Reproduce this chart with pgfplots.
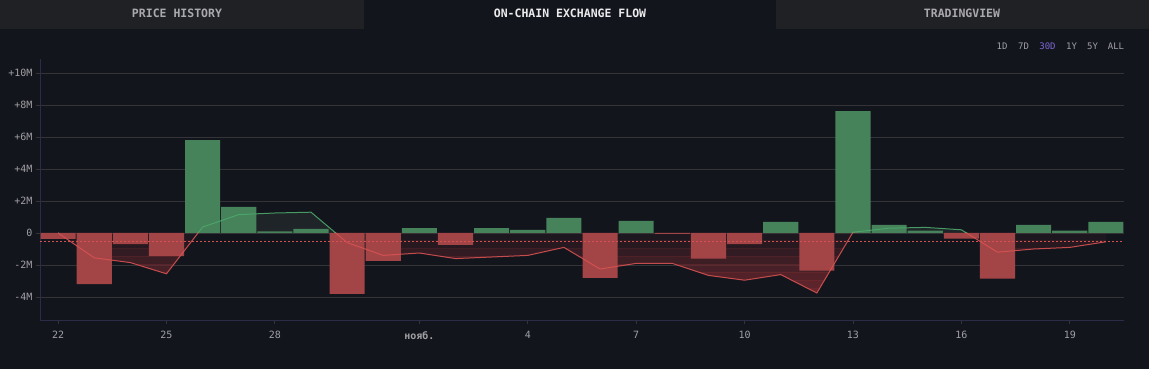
\documentclass[border=0pt]{standalone}
\usepackage{pgfplots}
\pgfplotsset{compat=1.18}
\usepackage{fontspec}
\setmainfont{DejaVu Sans Mono}
\definecolor{bg}{RGB}{19,21,29}
\definecolor{tabc}{RGB}{32,33,37}
\definecolor{grn}{RGB}{70,130,90}
\definecolor{redb}{RGB}{163,69,71}
\definecolor{redline}{RGB}{214,82,82}
\definecolor{grnline}{RGB}{76,168,106}
\definecolor{gridc}{RGB}{52,52,56}
\definecolor{axc}{RGB}{44,44,72}
\definecolor{tickc}{RGB}{160,160,165}
\definecolor{purp}{RGB}{124,104,214}
\definecolor{redfill}{RGB}{108,40,46}
\definecolor{grnfill}{RGB}{30,36,40}

\pgfplotstableread{
x y
4 5.81
5 1.63
6 0.1
7 0.25
10 0.3
12 0.3
13 0.2
14 0.95
16 0.75
20 0.7
22 7.62
23 0.5
24 0.15
27 0.5
28 0.15
29 0.7
}\pos
\pgfplotstableread{
x y
0 -0.37
1 -3.2
2 -0.7
3 -1.45
8 -3.8
9 -1.75
11 -0.75
15 -2.8
17 -0.05
18 -1.6
19 -0.7
21 -2.35
25 -0.35
26 -2.85
}\neg
\pgfplotstableread{
x y
0 0
1 -1.55
2 -1.85
3 -2.55
4 0.37
5 1.15
6 1.25
7 1.3
8 -0.6
9 -1.4
10 -1.25
11 -1.6
12 -1.5
13 -1.4
14 -0.9
15 -2.25
16 -1.9
17 -1.9
18 -2.65
19 -2.95
20 -2.6
21 -3.75
22 0.05
23 0.3
24 0.35
25 0.2
26 -1.2
27 -1.0
28 -0.9
29 -0.55
}\flow

\newcommand{\band}[3]{%
\begin{scope}
\clip (axis cs:-0.5,#1) rectangle (axis cs:29.5,#2);
\addplot[draw=none, fill=redfill, fill opacity=#3, forget plot] table {\flow} -- (axis cs:29,0) -- cycle;
\end{scope}}

\begin{document}
\begin{tikzpicture}
\useasboundingbox (0pt,0pt) rectangle (1149pt,369pt);
\fill[bg] (0pt,0pt) rectangle (1149pt,369pt);
\fill[tabc] (0pt,340pt) rectangle (364pt,369pt);
\fill[tabc] (776pt,340pt) rectangle (1149pt,369pt);
\node[text=tickc!90!white, font=\fontsize{11.5}{12}\selectfont\bfseries] at (177pt,355.5pt) {PRICE HISTORY};
\node[text=white!92!black, font=\fontsize{11.5}{12}\selectfont\bfseries] at (570pt,355.5pt) {ON-CHAIN EXCHANGE FLOW};
\node[text=tickc!90!white, font=\fontsize{11.5}{12}\selectfont\bfseries] at (962pt,355.5pt) {TRADINGVIEW};
\begin{scope}[font=\fontsize{9}{9}\selectfont, text=tickc]
\node at (1002pt,322.5pt) {1D};
\node at (1023.5pt,322.5pt) {7D};
\node[text=purp] at (1047.5pt,322.5pt) {30D};
\node at (1071.5pt,322.5pt) {1Y};
\node at (1092.5pt,322.5pt) {5Y};
\node at (1116pt,322.5pt) {ALL};
\end{scope}
\begin{axis}[
  at={(40pt,49pt)}, anchor=south west, scale only axis,
  width=1084pt, height=261pt,
  xmin=-0.5, xmax=29.5, ymin=-5.4375, ymax=10.875,
  axis x line*=bottom, axis y line*=left,
  axis line style={axc, line width=0.8pt, -},
  xtick={0,3,6,10,13,16,19,22,25,28},
  xticklabels={22,25,28,{\bfseries нояб.},4,7,10,13,16,19},
  ytick={-4,-2,0,2,4,6,8,10},
  yticklabels={-4M,-2M,0,+2M,+4M,+6M,+8M,+10M},
  tick align=outside, major tick length=4pt,
  tick style={gridc, line width=0.8pt},
  ymajorgrids, grid style={gridc, line width=0.8pt},
  ticklabel style={font=\fontsize{10}{10}\selectfont, text=tickc},
  xticklabel style={yshift=-4pt},
  clip=true,
]
% fills (stepped gradient below zero)
\band{-0.5}{0}{0.12}
\band{-1}{-0.5}{0.24}
\band{-1.5}{-1}{0.36}
\band{-2}{-1.5}{0.48}
\band{-2.5}{-2}{0.6}
\band{-3}{-2.5}{0.72}
\band{-3.5}{-3}{0.84}
\band{-5.5}{-3.5}{0.95}
\begin{scope}
\clip (axis cs:-0.5,0) rectangle (axis cs:29.5,10.875);
\addplot[draw=none, fill=grnfill, forget plot] table {\flow} -- (axis cs:29,0) -- cycle;
\end{scope}
% bars
\addplot[ybar, bar width=35.1pt, bar shift=0pt, fill=grn, draw=none] table {\pos};
\addplot[ybar, bar width=35.1pt, bar shift=0pt, fill=redb, draw=none] table {\neg};
% line
\begin{scope}
\clip (axis cs:-0.5,-5.4375) rectangle (axis cs:29.5,0);
\addplot[draw=redline, line width=1pt, draw opacity=0.9] table {\flow};
\end{scope}
\begin{scope}
\clip (axis cs:-0.5,0) rectangle (axis cs:29.5,10.875);
\addplot[draw=grnline, line width=1pt, draw opacity=0.9] table {\flow};
\end{scope}
\addplot[draw=redline, draw opacity=1, line width=1pt, dash pattern=on 2pt off 2pt] coordinates {(-0.5,-0.56) (29.5,-0.56)};
\end{axis}
\end{tikzpicture}
\end{document}
